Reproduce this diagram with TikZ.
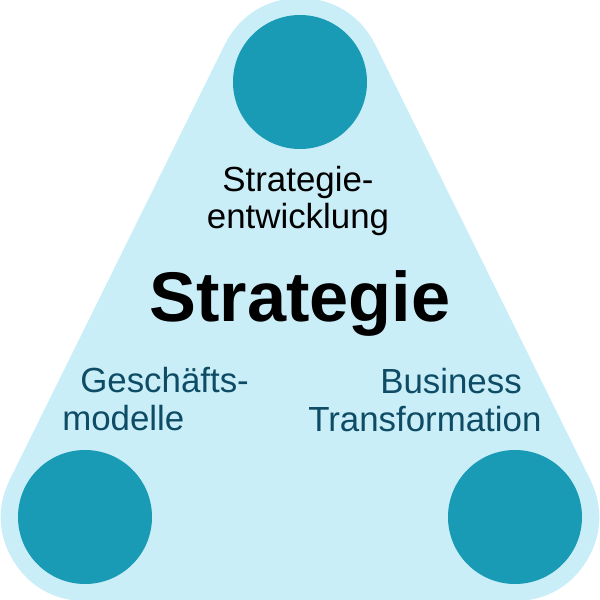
\documentclass[tikz,border=0pt]{standalone}
\usepackage{fontspec}
\setmainfont{Liberation Sans}
\definecolor{hullblue}{HTML}{C9EEF8}
\definecolor{dotteal}{HTML}{199BB5}
\definecolor{labelblue}{HTML}{0E4C66}
\tikzset{
  dot/.style={circle, fill=dotteal, minimum size=3.35cm, inner sep=0pt},
  label text/.style={inner sep=0pt, font=\fontsize{24.8}{26.4}\selectfont},
}
\begin{document}
\begin{tikzpicture}
            \useasboundingbox (0,0) rectangle (15,15);
            % rounded triangle behind the circles
            \filldraw[fill=hullblue, draw=hullblue, line width=4.2cm, line join=round]
                (7.5,12.95) -- (2.125,2.075) -- (12.875,2.075) -- cycle;

            \node[dot] (top) at (7.5,12.95) {};
            \node[dot] (left) at (2.125,2.075) {};
            \node[dot] (right) at (12.875,2.075) {};

            \node[label text, align=center] (entw) at (7.45,9.975) {Strategie-\\entwicklung};
            \node[inner sep=0pt, anchor=base, font=\fontsize{50}{52}\selectfont\bfseries] (strat) at (7.5,6.95) {Strategie};
            \node[label text, align=left, anchor=west, text=labelblue] (gesch) at (1.55,5.025) {\hspace{0.45cm}Geschäfts-\\modelle};
            \node[label text, align=left, anchor=west, text=labelblue] (busi) at (7.7,5.0) {\hspace{1.8cm}Business\\Transformation};
        \end{tikzpicture}
\end{document}
